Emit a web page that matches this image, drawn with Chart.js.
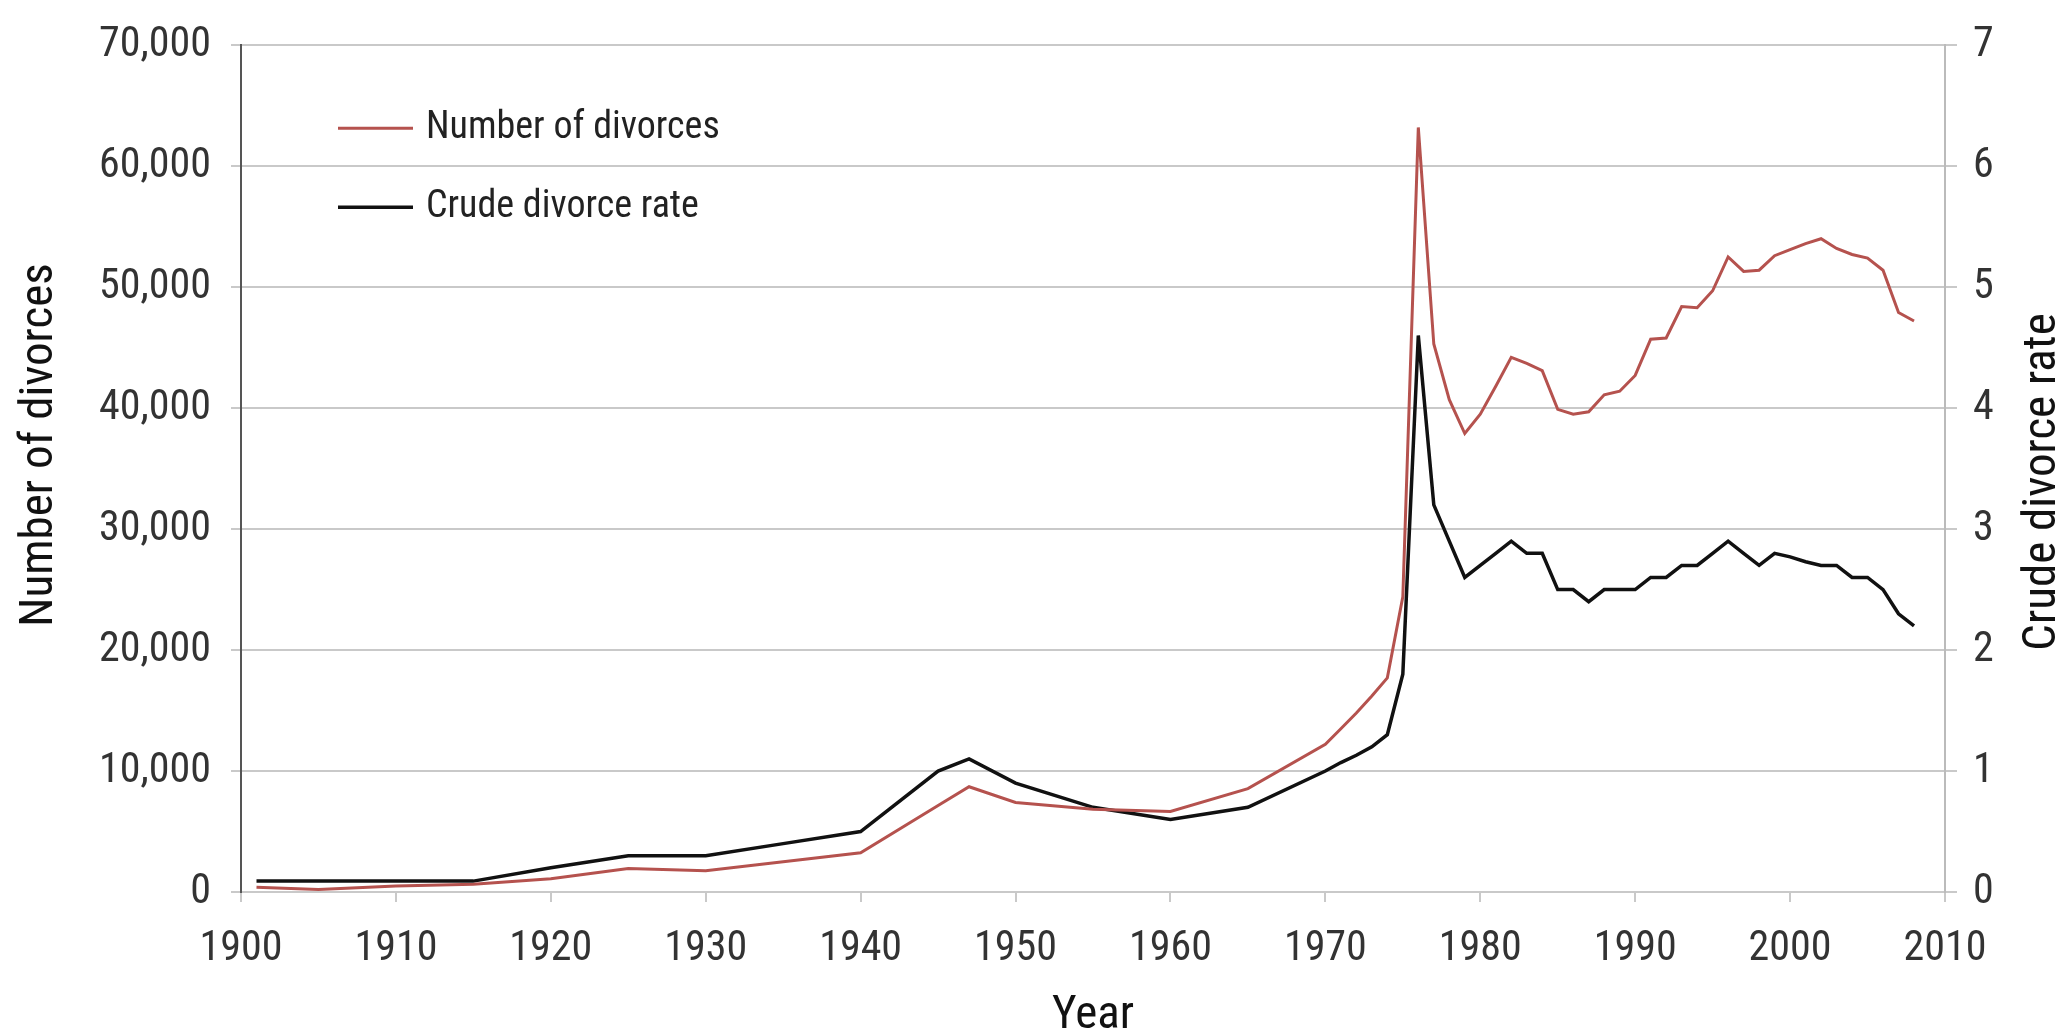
<!DOCTYPE html>
<html>
<head>
<meta charset="utf-8">
<script src="https://cdn.jsdelivr.net/npm/chart.js@4.4.1/dist/chart.umd.min.js"></script>
<style>
  body { margin: 0; background: #fff; }
  #wrap { width: 2069px; height: 1034px; }
</style>
</head>
<body>
<div id="wrap"><canvas id="divorceChart" width="2069" height="1034"></canvas></div>
<script>
// years (5-yearly early on, yearly from 1970)
const years = [1901, 1905, 1910, 1915, 1920, 1925, 1930, 1935, 1940, 1945, 1947, 1950, 1955, 1960, 1965,
  1970, 1971, 1972, 1973, 1974, 1975, 1976, 1977, 1978, 1979, 1980, 1981, 1982, 1983, 1984, 1985,
  1986, 1987, 1988, 1989, 1990, 1991, 1992, 1993, 1994, 1995, 1996, 1997, 1998, 1999, 2000,
  2001, 2002, 2003, 2004, 2005, 2006, 2007, 2008];

const divorces = [400, 200, 500, 650, 1100, 1950, 1750, 2500, 3250, 7150, 8700, 7400, 6850, 6650, 8550,
  12200, 13500, 14800, 16200, 17700, 24400, 63200, 45300, 40700, 37900, 39500, 41800, 44200, 43700, 43100, 39900,
  39500, 39700, 41100, 41400, 42700, 45700, 45800, 48400, 48300, 49700, 52500, 51300, 51400, 52600, 53100,
  53600, 54000, 53200, 52700, 52400, 51400, 47900, 47200];

const crudeRate = [0.09, 0.09, 0.09, 0.09, 0.2, 0.3, 0.3, 0.4, 0.5, 1.0, 1.1, 0.9, 0.7, 0.6, 0.7,
  1.0, 1.07, 1.13, 1.2, 1.3, 1.8, 4.6, 3.2, 2.9, 2.6, 2.7, 2.8, 2.9, 2.8, 2.8, 2.5,
  2.5, 2.4, 2.5, 2.5, 2.5, 2.6, 2.6, 2.7, 2.7, 2.8, 2.9, 2.8, 2.7, 2.8, 2.77,
  2.73, 2.7, 2.7, 2.6, 2.6, 2.5, 2.3, 2.2];

const seriesLabels = ['Number of divorces', 'Crude divorce rate'];
const seriesColors = ['#b5524e', '#111111'];
const axisTitles = ['Year', 'Number of divorces', 'Crude divorce rate'];

const narrow = "'Roboto Condensed', 'DejaVu Sans Condensed', sans-serif";
const gridGrey = '#c9c9c9';

// legend sits inside the plot (top left); both y titles read bottom-to-top
const extrasPlugin = {
  id: 'extras',
  afterDraw(chart) {
    const ctx = chart.ctx;
    const area = chart.chartArea;
    ctx.save();
    ctx.font = '38px ' + narrow;
    ctx.textBaseline = 'middle';
    chart.data.datasets.forEach((ds, i) => {
      const y = area.top + 83 + i * 79;
      ctx.strokeStyle = ds.borderColor;
      ctx.lineWidth = ds.borderWidth;
      ctx.beginPath();
      ctx.moveTo(area.left + 97, y);
      ctx.lineTo(area.left + 172, y);
      ctx.stroke();
      ctx.fillStyle = '#222';
      ctx.fillText(ds.label, area.left + 185, y);
    });

    ctx.font = '47px ' + narrow;
    ctx.fillStyle = '#111';
    ctx.textAlign = 'center';
    const drawUp = (text, x, y) => {
      ctx.save();
      ctx.translate(x, y);
      ctx.rotate(-Math.PI / 2);
      ctx.fillText(text, 0, 0);
      ctx.restore();
    };
    drawUp(axisTitles[1], 40, 445);
    drawUp(axisTitles[2], 2043, 482);
    ctx.restore();
  }
};

new Chart(document.getElementById('divorceChart'), {
  type: 'line',
  data: {
    datasets: [
      {
        label: seriesLabels[0],
        data: years.map((yr, i) => ({ x: yr, y: divorces[i] })),
        borderColor: seriesColors[0],
        borderWidth: 3,
        pointRadius: 0,
        tension: 0,
        yAxisID: 'y'
      },
      {
        label: seriesLabels[1],
        data: years.map((yr, i) => ({ x: yr, y: crudeRate[i] })),
        borderColor: seriesColors[1],
        borderWidth: 3.5,
        pointRadius: 0,
        tension: 0,
        yAxisID: 'y2'
      }
    ]
  },
  options: {
    responsive: false,
    animation: false,
    devicePixelRatio: 1,
    layout: { padding: { top: 40, left: 0, right: 0, bottom: 0 } },
    plugins: {
      legend: { display: false },
      tooltip: { enabled: false }
    },
    scales: {
      x: {
        type: 'linear',
        min: 1900,
        max: 2010,
        ticks: {
          stepSize: 10,
          padding: 22,
          color: '#333',
          font: { family: narrow, size: 42 },
          callback: v => String(v)
        },
        grid: { drawOnChartArea: false, drawTicks: true, tickLength: 10, color: gridGrey, lineWidth: 2 },
        border: { color: gridGrey, width: 2 },
        title: {
          display: true,
          text: axisTitles[0],
          color: '#111',
          font: { family: narrow, size: 47, lineHeight: 1 },
          padding: { top: 0, bottom: -6 }
        },
        afterFit: s => { s.height = 142; }
      },
      y: {
        position: 'left',
        min: 0,
        max: 70000,
        ticks: {
          stepSize: 10000,
          padding: 20,
          color: '#333',
          font: { family: narrow, size: 42 },
          callback: v => v.toLocaleString('en-US')
        },
        grid: { color: gridGrey, lineWidth: 2, tickLength: 10 },
        border: { color: '#555', width: 2 },
        afterFit: s => { s.width = 241; }
      },
      y2: {
        position: 'right',
        min: 0,
        max: 7,
        ticks: {
          stepSize: 1,
          padding: 16,
          color: '#333',
          font: { family: narrow, size: 42 }
        },
        grid: { drawOnChartArea: false, color: gridGrey, lineWidth: 2, tickLength: 12 },
        border: { color: '#bbbbbb', width: 2 },
        afterFit: s => { s.width = 124; }
      }
    }
  },
  plugins: [extrasPlugin]
});
</script>
</body>
</html>
